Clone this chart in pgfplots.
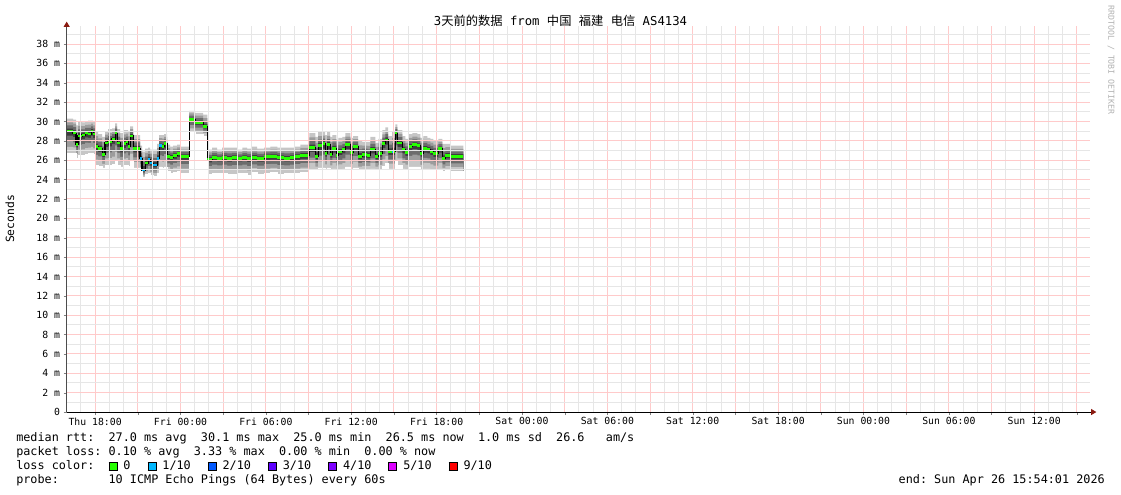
\documentclass[border=0pt]{standalone}
\usepackage{pgfplots}
\pgfplotsset{compat=1.18}
\usepackage{pgfplotstable}
\usepackage{fontspec}
\setmainfont{DejaVu Sans Mono}
\newfontfamily\cjk{Noto Sans CJK SC}
\usetikzlibrary{arrows.meta}
\definecolor{l0}{HTML}{26FF00}
\definecolor{l1}{HTML}{00B8FF}
\definecolor{l2}{HTML}{0059FF}
\definecolor{l3}{HTML}{5E00FF}
\definecolor{l4}{HTML}{7E00FF}
\definecolor{l5}{HTML}{DD00FF}
\definecolor{l9}{HTML}{FF0000}
\definecolor{smA}{HTML}{C6C6C6}
\definecolor{smB}{HTML}{9C9C9C}
\definecolor{smC}{HTML}{6C6C6C}
\definecolor{smD}{HTML}{3C3C3C}
\definecolor{mgrid}{HTML}{FFCACA}
\definecolor{ngrid}{HTML}{E6E6E6}
\definecolor{arrowred}{HTML}{8B1A10}

\pgfplotstableread{
x med w dl dh
16.00 29.0 0.45 2.3 1.3
16.45 28.8 0.21 2.1 1.4
16.66 27.6 0.14 1.4 2.0
16.80 28.5 0.28 2.0 1.5
17.08 28.6 0.22 2.1 1.3
17.30 28.8 0.21 2.2 1.2
17.51 28.7 0.21 2.0 1.4
17.72 29.0 0.14 2.3 1.1
17.86 28.7 0.14 2.1 1.3
18.00 27.4 0.21 1.9 1.6
18.21 27.2 0.28 1.8 1.5
18.49 26.6 0.21 1.4 1.8
18.70 27.8 0.21 2.3 1.2
18.91 27.9 0.28 2.4 1.3
19.19 28.2 0.22 2.6 1.1
19.41 28.8 0.14 2.8 1.0
19.55 27.8 0.21 2.3 1.4
19.76 27.2 0.21 1.9 1.6
19.97 27.7 0.21 2.2 1.4
20.18 27.9 0.14 2.4 1.2
20.32 27.4 0.14 2.0 1.5
20.46 28.5 0.21 2.6 1.0
20.67 27.2 0.49 2.0 1.4
21.16 26.2 0.14 1.3 1.3
21.30 25.0 0.22 0.8 1.9
21.52 25.7 0.21 1.2 1.5
21.73 26.1 0.14 1.5 1.2
21.87 25.7 0.21 1.3 1.4
22.08 25.5 0.28 1.2 1.6
22.36 26.2 0.14 1.6 1.5
22.50 27.5 0.21 2.2 1.1
22.71 27.4 0.14 2.2 1.2
22.85 27.7 0.21 2.4 1.0
23.06 26.4 0.21 1.6 1.2
23.27 26.3 0.21 1.7 1.1
23.48 26.5 0.29 1.8 1.0
23.77 26.7 0.21 1.9 0.9
23.98 26.4 0.63 1.8 1.0
24.61 30.2 0.42 1.3 0.9
25.03 29.9 0.56 1.2 1.0
25.59 29.5 0.29 1.0 1.2
25.88 26.1 0.35 1.6 1.0
26.23 26.3 0.35 1.7 1.0
26.58 26.2 0.35 1.6 0.9
26.93 26.3 0.35 1.7 1.0
27.28 26.2 0.35 1.7 1.1
27.63 26.3 0.35 1.8 1.0
27.98 26.2 0.36 1.6 0.9
28.34 26.3 0.35 1.7 1.0
28.69 26.2 0.35 1.8 1.0
29.04 26.3 0.35 1.6 1.1
29.39 26.2 0.49 1.7 1.0
29.88 26.4 0.43 1.8 0.9
30.31 26.4 0.49 1.7 1.0
30.80 26.3 0.49 1.8 1.0
31.29 26.2 0.42 1.6 1.1
31.71 26.3 0.35 1.7 1.0
32.06 26.4 0.36 1.8 1.0
32.42 26.5 0.63 1.8 1.1
33.05 27.3 0.42 2.3 1.5
33.47 26.4 0.21 1.5 2.0
33.68 27.5 0.28 2.3 1.4
33.96 27.7 0.21 2.5 1.2
34.17 26.7 0.14 1.6 1.9
34.31 27.6 0.21 2.4 1.3
34.52 26.6 0.15 1.6 1.8
34.67 27.2 0.28 2.1 1.4
34.95 26.5 0.14 1.5 1.6
35.09 26.9 0.28 1.9 1.4
35.37 27.1 0.21 2.0 1.3
35.58 27.6 0.35 2.3 1.2
35.93 26.8 0.21 1.7 1.5
36.14 27.4 0.35 2.2 1.1
36.49 26.4 0.28 1.5 1.6
36.77 26.6 0.36 1.7 1.3
37.13 26.5 0.21 1.6 1.4
37.34 27.1 0.35 2.0 1.3
37.69 26.4 0.21 1.5 1.4
37.90 26.7 0.28 1.7 1.5
38.18 27.7 0.21 2.3 1.4
38.39 28.1 0.21 2.4 1.3
38.60 26.9 0.28 1.8 1.6
38.88 26.9 0.22 1.8 2.0
39.10 28.8 0.14 2.8 0.9
39.24 27.8 0.35 2.3 1.3
39.59 27.1 0.21 2.0 1.4
39.80 26.8 0.21 1.8 1.4
40.01 27.4 0.28 2.1 1.3
40.29 27.6 0.35 2.3 1.2
40.64 27.5 0.21 2.2 1.2
40.85 26.7 0.21 1.7 1.6
41.06 27.2 0.29 2.1 1.3
41.35 27.1 0.21 2.0 1.2
41.56 26.9 0.21 1.9 1.3
41.77 26.7 0.35 1.8 1.3
42.12 27.2 0.28 2.1 1.0
42.40 26.2 0.21 1.4 1.5
42.61 26.5 0.35 1.6 1.2
42.96 26.4 0.92 1.6 1.1
43.88 26.4 0.00 1.6 1.1
}\smoke

\pgfplotstableread{
x med w
21.16 26.2 0.14
21.30 25.0 0.22
21.73 26.1 0.14
21.87 25.7 0.21
22.08 25.5 0.28
22.36 26.2 0.14
22.50 27.5 0.21
38.88 26.9 0.10
}\lossone

\newcommand{\sq}[1]{{\setlength{\fboxsep}{0pt}\setlength{\fboxrule}{0.75pt}\raisebox{-0.5pt}{\fcolorbox{black}{#1}{\rule{0pt}{5.25pt}\hspace{5.25pt}}}}}
\newcommand{\legfont}{\fontsize{8.85}{10}\selectfont}

\begin{document}
\frenchspacing
\begin{tikzpicture}
\path[use as bounding box] (-50pt,-61.5pt) rectangle (790.7pt,309pt);
\begin{axis}[
  at={(0,0)}, anchor=south west,
  scale only axis, width=767.25pt, height=289.8pt,
  xmin=16, xmax=87.9, ymin=0, ymax=39.9,
  axis lines=left, axis on top,
  xtick={18,21,...,87},
  xticklabels={Thu 18:00,,Fri 00:00,,Fri 06:00,,Fri 12:00,,Fri 18:00,,Sat 00:00,,Sat 06:00,,Sat 12:00,,Sat 18:00,,Sun 00:00,,Sun 06:00,,Sun 12:00,},
  minor xtick={17,19,20,22,23,25,26,28,29,31,32,34,35,37,38,40,41,43,44,46,47,49,50,52,53,55,56,58,59,61,62,64,65,67,68,70,71,73,74,76,77,79,80,82,83,85,86},
  ytick={0,2,...,38},
  yticklabels={0,2 m,4 m,6 m,8 m,10 m,12 m,14 m,16 m,18 m,20 m,22 m,24 m,26 m,28 m,30 m,32 m,34 m,36 m,38 m},
  minor ytick={1,3,...,39},
  grid=both,
  grid style={draw=mgrid, line width=0.75pt, solid},
  major grid style={draw=mgrid, line width=0.75pt, solid},
  minor grid style={draw=ngrid, line width=0.75pt, solid},
  tick align=outside, major tick length=2.25pt, minor tick length=0pt,
  /pgf/number format/assume math mode=true,
  ticklabel style={font=\fontsize{7.35}{8}\selectfont},
  xticklabel style={anchor=north, inner sep=0pt, yshift=-1.8pt},
  yticklabel style={anchor=east, inner sep=0pt, xshift=-2.5pt},
  x axis line style={black, line width=0.75pt, -{Triangle[length=4pt,width=4.5pt,color=arrowred]}, shorten >=-5pt},
  y axis line style={black!70, line width=0.75pt, -{Triangle[length=4pt,width=4.5pt,color=arrowred]}, shorten >=-3pt},
]
\addplot[const plot, draw=none, fill=smA] table[x=x, y expr=\thisrow{med}+\thisrow{dh}] {\smoke} \closedcycle;
\addplot[const plot, draw=none, fill=smB] table[x=x, y expr=\thisrow{med}+0.7*\thisrow{dh}] {\smoke} \closedcycle;
\addplot[const plot, draw=none, fill=smC] table[x=x, y expr=\thisrow{med}+0.45*\thisrow{dh}] {\smoke} \closedcycle;
\addplot[const plot, draw=none, fill=smD] table[x=x, y expr=\thisrow{med}+0.2*\thisrow{dh}] {\smoke} \closedcycle;
\addplot[const plot, draw=none, fill=smC] table[x=x, y expr=\thisrow{med}-0.2*\thisrow{dl}] {\smoke} \closedcycle;
\addplot[const plot, draw=none, fill=smB] table[x=x, y expr=\thisrow{med}-0.45*\thisrow{dl}] {\smoke} \closedcycle;
\addplot[const plot, draw=none, fill=smA] table[x=x, y expr=\thisrow{med}-0.7*\thisrow{dl}] {\smoke} \closedcycle;
\addplot[const plot, draw=white, line width=0.6pt, fill=white] table[x=x, y expr=\thisrow{med}-\thisrow{dl}] {\smoke} \closedcycle;
\addplot[const plot, black, line width=0.9pt, mark=none] table[x=x, y=med] {\smoke};
\addplot[draw=none, mark=none, error bars/.cd, x dir=plus, x explicit, error mark=none,
  error bar style={draw=l0, line width=1.9pt, line cap=butt, solid}] table[x=x, y=med, x error=w] {\smoke};
\addplot[draw=none, mark=none, error bars/.cd, x dir=plus, x explicit, error mark=none,
  error bar style={draw=l1, line width=1.9pt, line cap=butt, solid}] table[x=x, y=med, x error=w] {\lossone};
\end{axis}
\node[font=\fontsize{9.2}{11}\selectfont] at (370.35pt,293.25pt) {3{\cjk 天前的数据}~from~{\cjk 中国}~{\cjk 福建}~{\cjk 电信}~AS4134};
\node[rotate=90, font=\fontsize{8.5}{10}\selectfont] at (-42.5pt,144.75pt) {Seconds};
\node[rotate=-90, font=\fontsize{6.2}{7}\selectfont, text=black!30] at (783.2pt,264pt) {RRDTOOL~/~TOBI~OETIKER};
\node[anchor=base west, inner sep=0pt, font=\legfont] at (-38pt,-21.75pt) {median~rtt:~~27.0~ms~avg~~30.1~ms~max~~25.0~ms~min~~26.5~ms~now~~1.0~ms~sd~~26.6~~~am/s};
\node[anchor=base west, inner sep=0pt, font=\legfont] at (-38pt,-32.25pt) {packet~loss:~0.10~\%~avg~~3.33~\%~max~~0.00~\%~min~~0.00~\%~now};
\node[anchor=base west, inner sep=0pt, font=\legfont] at (-38pt,-42.75pt) {loss~color:~~\sq{l0}\hspace{4.4pt}0\hspace{12.7pt}\sq{l1}\hspace{4.4pt}1/10\hspace{12.7pt}\sq{l2}\hspace{4.4pt}2/10\hspace{12.7pt}\sq{l3}\hspace{4.4pt}3/10\hspace{12.7pt}\sq{l4}\hspace{4.4pt}4/10\hspace{12.7pt}\sq{l5}\hspace{4.4pt}5/10\hspace{12.7pt}\sq{l9}\hspace{4.4pt}9/10};
\node[anchor=base west, inner sep=0pt, font=\legfont] at (-38pt,-53.25pt) {probe:~~~~~~~10~ICMP~Echo~Pings~(64~Bytes)~every~60s};
\node[anchor=base east, inner sep=0pt, font=\legfont] at (778.7pt,-53.25pt) {end:~Sun~Apr~26~15:54:01~2026};
\end{tikzpicture}
\end{document}
